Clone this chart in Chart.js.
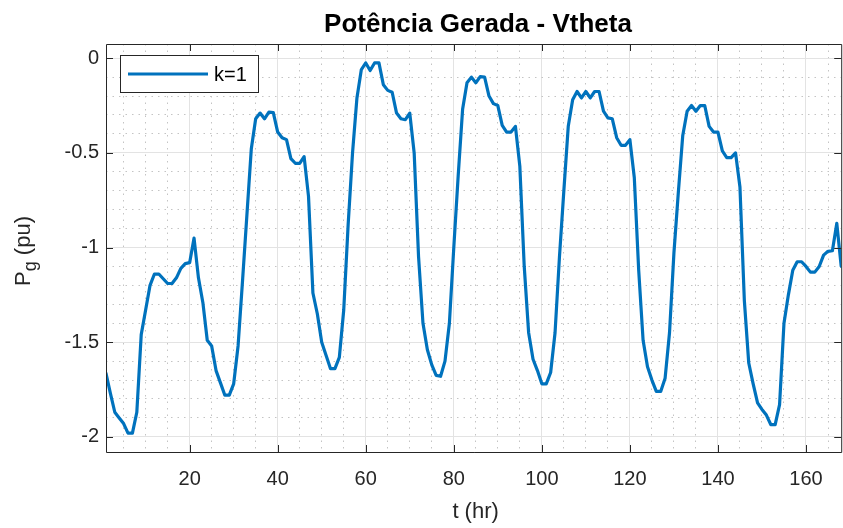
<!DOCTYPE html>
<html>
<head>
<meta charset="utf-8">
<title>Potência Gerada - Vtheta</title>
<script src="https://cdn.jsdelivr.net/npm/chart.js@4"></script>
<style>
  html, body { margin: 0; padding: 0; background: #fff; }
  #wrap { width: 843px; height: 528px; }
</style>
</head>
<body>
<div id="wrap"><canvas id="chart" width="843" height="528"></canvas></div>
<script>
// Potência gerada (pu) por hora, k=1

const TITLE = "Potência Gerada - Vtheta";
const X_LABEL = "t (hr)";
const SERIES_LABEL = "k=1";

// hour index 1..168
const hours = [];
for (let h = 1; h <= 168; h++) hours.push(h);

// values
const pg = [
  -1.665, -1.77, -1.87, -1.90, -1.93, -1.98, -1.98, -1.87, -1.46, -1.33,
  -1.20, -1.14, -1.14, -1.165, -1.19, -1.19, -1.16, -1.11, -1.085, -1.08,
  -0.95, -1.16, -1.29, -1.49, -1.52, -1.65, -1.715, -1.78, -1.78, -1.72,
  -1.52, -1.18, -0.83, -0.48, -0.32, -0.29, -0.32, -0.285, -0.287, -0.39,
  -0.42, -0.43, -0.53, -0.555, -0.555, -0.52, -0.73, -1.24, -1.35, -1.50,
  -1.57, -1.64, -1.64, -1.58, -1.33, -0.88, -0.50, -0.21, -0.06, -0.025,
  -0.065, -0.025, -0.025, -0.14, -0.17, -0.18, -0.29, -0.32, -0.325, -0.29,
  -0.50, -1.05, -1.40, -1.54, -1.62, -1.675, -1.68, -1.60, -1.40, -1.00,
  -0.62, -0.27, -0.13, -0.10, -0.13, -0.097, -0.10, -0.20, -0.24, -0.25,
  -0.355, -0.39, -0.39, -0.36, -0.57, -1.10, -1.45, -1.59, -1.65, -1.72,
  -1.72, -1.66, -1.45, -1.05, -0.70, -0.36, -0.22, -0.176, -0.21, -0.176,
  -0.21, -0.176, -0.176, -0.28, -0.315, -0.32, -0.42, -0.46, -0.46, -0.43,
  -0.63, -1.12, -1.49, -1.63, -1.70, -1.76, -1.76, -1.69, -1.45, -1.03,
  -0.71, -0.41, -0.28, -0.25, -0.28, -0.25, -0.25, -0.36, -0.39, -0.39,
  -0.49, -0.525, -0.525, -0.50, -0.68, -1.28, -1.61, -1.72, -1.82, -1.855,
  -1.885, -1.935, -1.935, -1.83, -1.40, -1.25, -1.12, -1.075, -1.075, -1.10,
  -1.13, -1.13, -1.10, -1.04, -1.02, -1.017, -0.872, -1.10
];

// tick labels
const xMajor = [20, 40, 60, 80, 100, 120, 140, 160];
const yMajor = [-2, -1.5, -1, -0.5, 0];
const xMinorStep = 5;
const yMinorStep = 0.1;

const X_MIN = 1, X_MAX = 168;
const Y_MIN = -2.08, Y_MAX = 0.075;

const FONT = '"Liberation Sans", Arial, Helvetica, sans-serif';
const AXIS_COLOR = "#262626";
const LINE_COLOR = "#0072BD";

Chart.defaults.font.family = FONT;

function isMajorX(v){ return xMajor.indexOf(Math.round(v)) >= 0 && Math.abs(v - Math.round(v)) < 1e-6; }
function isMajorY(v){ return Math.abs(v*2 - Math.round(v*2)) < 1e-6; }

// grid ticks (major + minor)
function xGridTicks(){
  const out = [];
  for (let v = xMinorStep; v <= X_MAX; v += xMinorStep) if (v >= X_MIN) out.push({ value: v });
  return out;
}
function yGridTicks(){
  const out = [];
  const lo = Math.ceil(Y_MIN / yMinorStep), hi = Math.floor(Y_MAX / yMinorStep);
  for (let k = lo; k <= hi; k++) out.push({ value: k / 10 });
  return out;
}

// frame, inward ticks, title, axis labels, legend
const decor = {
  id: "decor",
  afterDraw(chart){
    const { ctx, chartArea: a, scales } = chart;
    const x = scales.x, y = scales.y;
    ctx.save();

    // box
    ctx.strokeStyle = AXIS_COLOR;
    ctx.lineWidth = 1;
    ctx.beginPath();
    ctx.moveTo(a.left + 0.5, a.top + 0.5); ctx.lineTo(a.right + 0.5, a.top + 0.5);
    ctx.moveTo(a.left + 0.5, a.bottom + 0.5); ctx.lineTo(a.right + 0.5, a.bottom + 0.5);
    ctx.moveTo(a.left + 0.5, a.top + 0.5); ctx.lineTo(a.left + 0.5, a.bottom + 0.5);
    ctx.moveTo(a.right + 0.5, a.top + 0.5); ctx.lineTo(a.right + 0.5, a.bottom + 0.5);
    ctx.stroke();

    // inward ticks
    const TL = 7;
    ctx.beginPath();
    xMajor.forEach(v => {
      const px = Math.round(x.getPixelForValue(v)) + 0.5;
      ctx.moveTo(px, a.bottom); ctx.lineTo(px, a.bottom - TL);
      ctx.moveTo(px, a.top); ctx.lineTo(px, a.top + TL);
    });
    yMajor.forEach(v => {
      const py = Math.round(y.getPixelForValue(v)) + 0.5;
      ctx.moveTo(a.left, py); ctx.lineTo(a.left + TL, py);
      ctx.moveTo(a.right, py); ctx.lineTo(a.right - TL, py);
    });
    ctx.stroke();

    // title
    ctx.fillStyle = "#000";
    ctx.font = "bold 26px " + FONT;
    ctx.textAlign = "center";
    ctx.textBaseline = "alphabetic";
    ctx.fillText(TITLE, 478, 32);

    // x label
    ctx.fillStyle = AXIS_COLOR;
    ctx.font = "22px " + FONT;
    ctx.textBaseline = "middle";
    ctx.fillText(X_LABEL, (a.left + a.right) / 2 + 2, 512);

    // y label: P_g (pu), rotated
    ctx.save();
    ctx.translate(30, (a.top + a.bottom) / 2 + 3);
    ctx.rotate(-Math.PI / 2);
    ctx.textAlign = "left";
    ctx.textBaseline = "alphabetic";
    const big = "22px " + FONT, small = "18px " + FONT;
    ctx.font = big; const wP = ctx.measureText("P").width;
    ctx.font = small; const wg = ctx.measureText("g").width;
    ctx.font = big; const wRest = ctx.measureText(" (pu)").width;
    let cx = -(wP + wg + wRest) / 2;
    ctx.font = big; ctx.fillText("P", cx, 0); cx += wP;
    ctx.font = small; ctx.fillText("g", cx, 6); cx += wg;
    ctx.font = big; ctx.fillText(" (pu)", cx, 0);
    ctx.restore();

    // legend
    const lx = 120, ly = 55, lw = 138, lh = 37;
    ctx.fillStyle = "#fff";
    ctx.fillRect(lx, ly, lw, lh);
    ctx.strokeStyle = AXIS_COLOR;
    ctx.lineWidth = 1;
    ctx.strokeRect(lx + 0.5, ly + 0.5, lw, lh);
    const ds = chart.data.datasets[0];
    ctx.strokeStyle = ds.borderColor;
    ctx.lineWidth = ds.borderWidth;
    ctx.beginPath();
    ctx.moveTo(lx + 8, ly + 19); ctx.lineTo(lx + 88, ly + 19);
    ctx.stroke();
    ctx.fillStyle = "#000";
    ctx.font = "20px " + FONT;
    ctx.textAlign = "left";
    ctx.textBaseline = "middle";
    ctx.fillText(ds.label, lx + 94, ly + 20);

    ctx.restore();
  }
};

const ctx = document.getElementById("chart").getContext("2d");
new Chart(ctx, {
  type: "line",
  data: {
    datasets: [{
      label: SERIES_LABEL,
      data: hours.map((h, i) => ({ x: h, y: pg[i] })),
      borderColor: LINE_COLOR,
      borderWidth: 3.2,
      borderJoinStyle: "round",
      borderCapStyle: "round",
      pointRadius: 0,
      tension: 0,
      fill: false
    }]
  },
  options: {
    responsive: false,
    animation: false,
    devicePixelRatio: 1,
    layout: { padding: { top: 44, right: 0, left: 0, bottom: 0 } },
    plugins: { legend: { display: false }, title: { display: false }, tooltip: { enabled: false } },
    scales: {
      x: {
        type: "linear",
        min: X_MIN, max: X_MAX,
        afterBuildTicks: s => { s.ticks = xGridTicks(); },
        afterFit: s => { s.height = 76; },
        ticks: {
          autoSkip: false, maxRotation: 0, padding: 15,
          color: AXIS_COLOR, font: { size: 20 },
          callback: v => isMajorX(v) ? String(v) : ""
        },
        grid: {
          drawTicks: false,
          color: c => isMajorX(c.tick.value) ? "#e3e3e3" : "#c4c4c4",
          lineWidth: 1
        },
        border: { display: false, dash: c => isMajorX(c.tick.value) ? [] : [1.5, 5] }
      },
      y: {
        type: "linear",
        min: Y_MIN, max: Y_MAX,
        afterBuildTicks: s => { s.ticks = yGridTicks(); },
        afterFit: s => { s.width = 106; },
        ticks: {
          autoSkip: false, padding: 7,
          color: AXIS_COLOR, font: { size: 20 },
          callback: v => isMajorY(v) ? String(Math.round(v * 10) / 10) : ""
        },
        grid: {
          drawTicks: false,
          color: c => isMajorY(c.tick.value) ? "#e3e3e3" : "#c4c4c4",
          lineWidth: 1
        },
        border: { display: false, dash: c => isMajorY(c.tick.value) ? [] : [1.5, 5] }
      }
    }
  },
  plugins: [decor]
});
</script>
</body>
</html>
